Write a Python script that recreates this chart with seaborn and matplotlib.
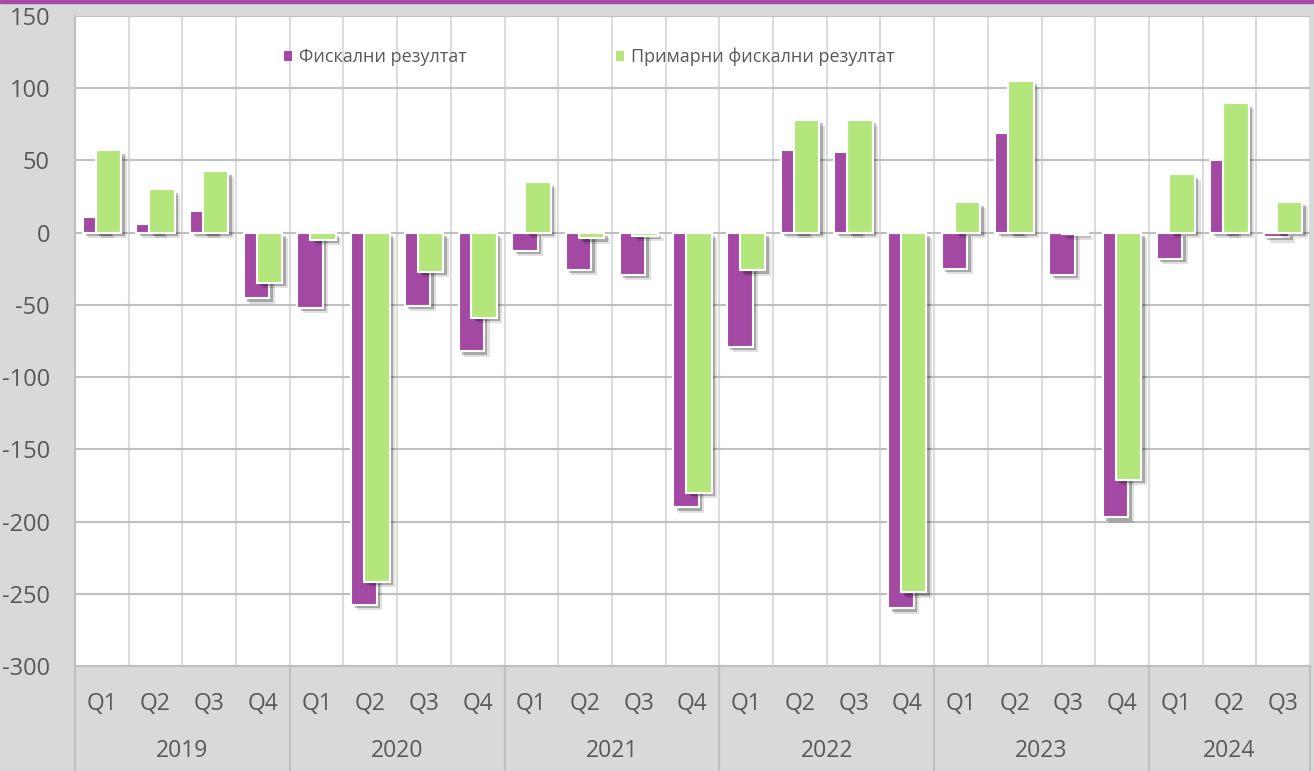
import numpy as np
import pandas as pd
import matplotlib
matplotlib.use('Agg')
import matplotlib.pyplot as plt
import matplotlib.patheffects as pe
from matplotlib.patches import Rectangle, Patch
import seaborn as sns

# --- データ ---
years = ['2019', '2020', '2021', '2022', '2023', '2024']
quarters = ['Q1', 'Q2', 'Q3', 'Q4']
n_quarters = [4, 4, 4, 4, 4, 3]

fiscal = [11, 6, 15, -45.5,
          -52, -257.5, -50.5, -82,
          -12.5, -25.5, -29, -190,
          -79, 57, 56, -260,
          -25, 69, -29, -197,
          -18, 50.5, -3]
primary = [57, 30, 42.5, -34.5,
           -5, -241.5, -27, -59,
           35, -4, -2, -180,
           -26, 78, 78, -249,
           21, 105, -1, -171,
           40.5, 89.5, 21.5]

series_names = ['Фискални резултат', 'Примарни фискални резултат']

PURPLE = '#A349A4'
GREEN = '#B3E67B'
TEXT = '#595959'
BG = '#D9D9D9'

period = [f'{y} {q}' for y, n in zip(years, n_quarters) for q in quarters[:n]]
q_labels = [q for n in n_quarters for q in quarters[:n]]
n = len(period)

df = pd.DataFrame({
    'period': period * 2,
    'value': fiscal + primary,
    'series': [series_names[0]] * n + [series_names[1]] * n,
})

sns.set_theme(style='white')
plt.rcParams['font.family'] = ['Open Sans', 'DejaVu Sans']
plt.rcParams['axes.unicode_minus'] = False

fig = plt.figure(figsize=(13.14, 7.71), dpi=100, facecolor=BG)
ax = fig.add_axes([75 / 1314, 105 / 771, 1235 / 1314, 650 / 771])
ax.set_facecolor('white')

sns.barplot(data=df, x='period', y='value', hue='series', order=period,
            palette=[PURPLE, GREEN], width=0.48, saturation=1,
            edgecolor='white', linewidth=1.5, errorbar=None, ax=ax, legend=False)

# 棒を広げて重ねる（Excel風）
bar_w = 0.475
shadow = [pe.SimplePatchShadow(offset=(4, -4), shadow_rgbFace='black', alpha=0.12),
          pe.SimplePatchShadow(offset=(2.5, -2.5), shadow_rgbFace='black', alpha=0.25),
          pe.Normal()]
for bar in ax.patches:
    c = bar.get_x() + bar.get_width() / 2
    bar.set_width(bar_w)
    bar.set_x(c - bar_w / 2)
    bar.set_path_effects(shadow)

ax.set_xlim(-0.5, n - 0.5)
ax.set_ylim(-300, 150)
ax.set_yticks(range(-300, 151, 50))
ax.set_xticks(range(n))
ax.set_xticklabels(q_labels)
ax.set_xlabel('')
ax.set_ylabel('')

ax.set_axisbelow(True)
ax.yaxis.grid(True, color='#BFBFBF', lw=1.5)
ax.set_xticks(np.arange(-0.5, n, 1), minor=True)
ax.xaxis.grid(True, which='minor', color='#DCDCDC', lw=1.5)
ax.xaxis.grid(False, which='major')

ax.tick_params(axis='y', length=0, pad=18, labelsize=17, labelcolor=TEXT)
ax.tick_params(axis='x', which='both', length=0, pad=19, labelsize=16.5, labelcolor=TEXT)

for s in ['top', 'right']:
    ax.spines[s].set_visible(False)
ax.spines['left'].set_color('#BFBFBF')
ax.spines['left'].set_linewidth(1.5)
ax.spines['bottom'].set_color('#BFBFBF')
ax.spines['bottom'].set_linewidth(1.5)

# 年のラベルと区切り線
trans = ax.get_xaxis_transform()
start = 0
for y, k in zip(years, n_quarters):
    ax.plot([start - 0.5, start - 0.5], [0, -0.165], transform=trans,
            color='#BFBFBF', lw=1.5, clip_on=False)
    ax.text(start + (k - 1) / 2, -0.131, y, transform=trans, ha='center', va='center',
            fontsize=16.5, color=TEXT)
    start += k
ax.plot([start - 0.5, start - 0.5], [0, -0.165], transform=trans,
        color='#BFBFBF', lw=1.5, clip_on=False)

# 凡例
handles = [Patch(facecolor=PURPLE, edgecolor='none'),
           Patch(facecolor=GREEN, edgecolor='none')]
ax.legend(handles, series_names, ncol=2, frameon=False, loc='center left',
          bbox_to_anchor=(268 / 1314, 1 - 57 / 771), bbox_transform=fig.transFigure,
          fontsize=13, handlelength=0.45, handleheight=0.45, handletextpad=0.35,
          columnspacing=8.3, labelcolor=TEXT)

# 上部の紫の線
fig.patches.append(Rectangle((0, 1 - 3 / 771), 1, 3 / 771, transform=fig.transFigure,
                             color=PURPLE, zorder=10))

fig.savefig('out.png', dpi=100, facecolor=fig.get_facecolor())
